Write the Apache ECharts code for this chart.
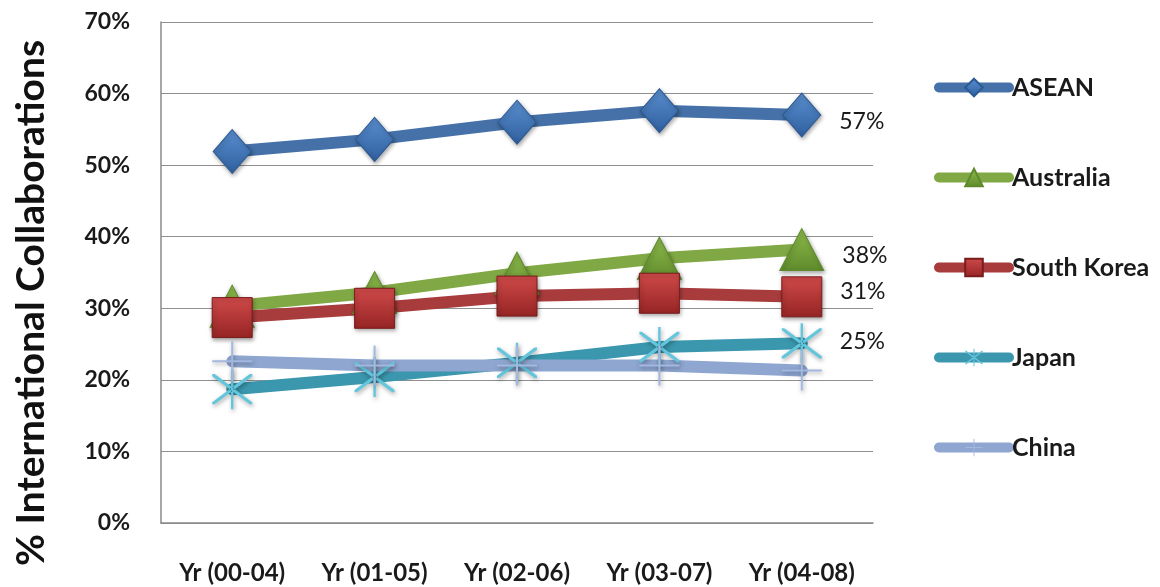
<!DOCTYPE html>
<html>
<head>
<meta charset="utf-8">
<script src="https://cdn.jsdelivr.net/npm/echarts@6/dist/echarts.min.js"></script>
<style>html,body{margin:0;padding:0;background:#fff;}#c{width:1160px;height:587px;}</style>
</head>
<body>
<div id="c"></div>
<script>
const categories = ['Yr (00-04)', 'Yr (01-05)', 'Yr (02-06)', 'Yr (03-07)', 'Yr (04-08)'];
const yTicks = [0, 10, 20, 30, 40, 50, 60, 70];
const asean = [51.9, 53.6, 56.0, 57.6, 57.0];
const australia = [30.3, 32.2, 34.9, 37.0, 38.2];
const southKorea = [28.7, 30.0, 31.7, 32.1, 31.6];
const japan = [18.7, 20.4, 22.4, 24.6, 25.1];
const china = [22.6, 22.0, 22.0, 22.0, 21.3];
const endLabels = { 'ASEAN': '57%', 'Australia': '38%', 'South Korea': '31%', 'Japan': '25%' };

const FONT = 'Lato, "Open Sans", sans-serif';
const asterisk = 'path://M18.8 0 L21.2 0 L21.2 40 L18.8 40 Z M0 4.8 L2.4 4.8 L40 33 L40 35.2 L37.6 35.2 L0 7 Z M40 4.8 L37.6 4.8 L0 33 L0 35.2 L2.4 35.2 L40 7 Z';
const plus = 'path://M19 0 L21 0 L21 19 L40 19 L40 21 L21 21 L21 40 L19 40 L19 21 L0 21 L0 19 L19 19 Z';

function grad(c1, c2) {
  return { type: 'linear', x: 0, y: 0, x2: 0, y2: 1, colorStops: [{ offset: 0, color: c1 }, { offset: 1, color: c2 }] };
}

function mk(name, data, lineColor, symbol, size, symColor, border, labelOffset) {
  return {
    name: name, type: 'line', data: data,
    symbol: symbol, symbolSize: size,
    lineStyle: { width: 12, color: lineColor, cap: 'round', join: 'round' },
    itemStyle: { color: symColor, borderColor: border, borderWidth: border ? 1 : 0,
      shadowBlur: 4, shadowColor: 'rgba(0,0,0,0.35)', shadowOffsetX: 1, shadowOffsetY: 2 },
    label: {
      show: !!endLabels[name], position: 'right', distance: 18, offset: labelOffset || [0, 0],
      fontFamily: FONT, fontSize: 23, color: '#1a1a1a',
      formatter: function (p) { return p.dataIndex === data.length - 1 ? endLabels[name] : ''; }
    },
    emphasis: { disabled: true },
    animation: false
  };
}

const chart = echarts.init(document.getElementById('c'));
chart.setOption({
  backgroundColor: '#ffffff',
  animation: false,
  grid: { left: 161, right: 287, top: 22, bottom: 64 },
  xAxis: {
    type: 'category', data: categories, boundaryGap: true,
    axisLine: { lineStyle: { color: '#8a8a8a', width: 1.5 } },
    axisTick: { show: false },
    axisLabel: { margin: 38, fontFamily: FONT, fontWeight: 'bold', fontSize: 24, color: '#1a1a1a' }
  },
  yAxis: {
    type: 'value', min: yTicks[0], max: yTicks[yTicks.length - 1], interval: 10,
    axisLine: { show: true, lineStyle: { color: '#8a8a8a', width: 1.5 } },
    axisTick: { show: false },
    splitLine: { lineStyle: { color: '#8f8f8f', width: 1.2 } },
    axisLabel: { margin: 31, fontFamily: FONT, fontWeight: 'bold', fontSize: 23, color: '#1a1a1a',
      formatter: function (v) { return v + '%'; } }
  },
  legend: {
    orient: 'vertical', left: 929, top: 70, itemGap: 65, itemWidth: 70, itemHeight: 22,
    data: ['ASEAN', 'Australia', 'South Korea', 'Japan', 'China'],
    lineStyle: { width: 10, cap: 'round' },
    textStyle: { fontFamily: FONT, fontWeight: 'bold', fontSize: 25, color: '#1a1a1a', padding: [0, 0, 0, -2] }
  },
  graphic: [{
    type: 'text', x: 31, y: 303, rotation: Math.PI / 2,
    style: { text: '% International Collaborations', fontFamily: FONT, fontSize: 39, fontWeight: 'bold', fill: '#111',
      textAlign: 'center', textVerticalAlign: 'middle' }
  }],
  series: [
    mk('ASEAN', asean, '#4571a8', 'diamond', [38, 44], grad('#5a8fd0', '#2f5f9e'), '#2c5a94', [0, 7]),
    mk('Australia', australia, '#80a844', 'triangle', [44, 42], grad('#8fbc4c', '#5f8a2c'), '#5d8a2a', [0, 6]),
    mk('South Korea', southKorea, '#a83c3c', 'rect', [40, 40], grad('#d04a4a', '#962424'), '#7a1c1c', [0, -5]),
    mk('Japan', japan, '#3a97ae', asterisk, [40, 40], '#63c6dd', null, [0, -2]),
    mk('China', china, '#8ea6d0', plus, [40, 40], '#a3b8e0', null)
  ]
});
</script>
</body>
</html>
